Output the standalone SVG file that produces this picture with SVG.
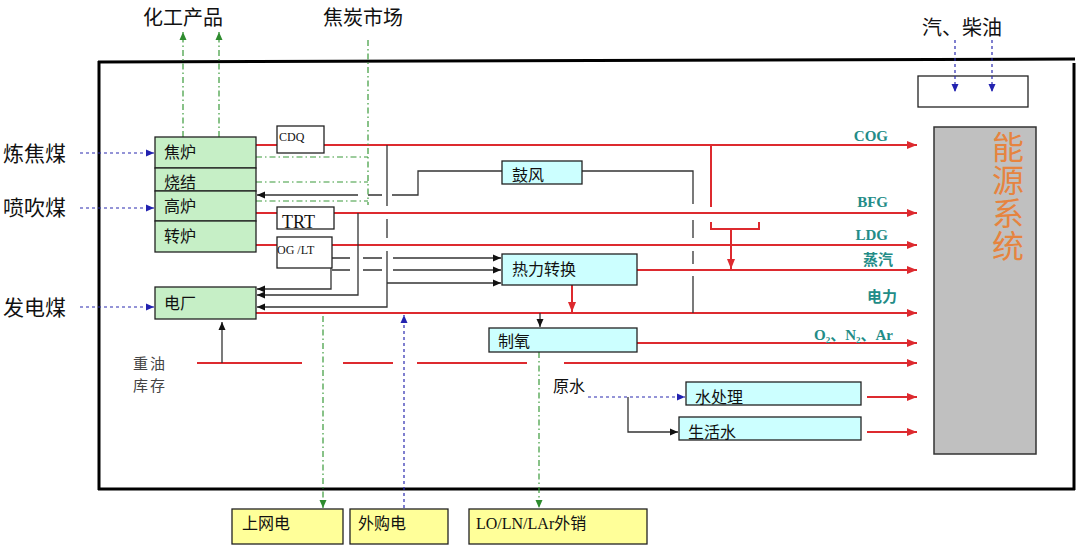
<svg xmlns="http://www.w3.org/2000/svg" width="1080" height="549" viewBox="0 0 1080 549">
<defs>
<style>
.cn{font-family:"Noto Sans CJK SC","Noto Sans",sans-serif;fill:#111}
.lbl{font-family:"Liberation Serif","Noto Sans CJK SC",serif;font-weight:bold;fill:#238C87;font-size:15px}
.lblc{font-family:"Noto Sans CJK SC",sans-serif;font-weight:bold;fill:#238C87;font-size:15px}
.ser{font-family:"Liberation Serif","Noto Sans CJK SC",serif;fill:#111}
.g{fill:#C6EFC6;stroke:#222;stroke-width:1.3}
.c{fill:#CCFFFF;stroke:#222;stroke-width:1.3}
.w{fill:#fff;stroke:#222;stroke-width:1.3}
.y{fill:#FFFF99;stroke:#222;stroke-width:1.3}
.red{fill:none;stroke:#DD2A2F;stroke-width:2}
.blk{fill:none;stroke:#333;stroke-width:1.3}
.blu{fill:none;stroke:#2A2AB0;stroke-width:1.2;stroke-dasharray:3,3}
.grn{fill:none;stroke:#3A9A3A;stroke-width:1.2;stroke-dasharray:6,3,1.5,3}
</style>
<marker id="aR" markerUnits="userSpaceOnUse" markerWidth="10" markerHeight="8" refX="10" refY="4" orient="auto"><path d="M0,0 L10,4 L0,8 z" fill="#DD2A2F"/></marker>
<marker id="aK" markerUnits="userSpaceOnUse" markerWidth="8" markerHeight="8" refX="8" refY="4" orient="auto"><path d="M0,0.5 L8,4 L0,7.5 z" fill="#111"/></marker>
<marker id="aB" markerUnits="userSpaceOnUse" markerWidth="8" markerHeight="8" refX="8" refY="4" orient="auto"><path d="M0,0.5 L8,4 L0,7.5 z" fill="#2222B0"/></marker>
<marker id="aG" markerUnits="userSpaceOnUse" markerWidth="8" markerHeight="8" refX="8" refY="4" orient="auto"><path d="M0,0.5 L8,4 L0,7.5 z" fill="#2E8B2E"/></marker>
</defs>
<rect width="1080" height="549" fill="#fff"/>

<g id="frame" stroke="#000" stroke-width="3" fill="none">
<path d="M98,62 L1075,59"/>
<path d="M99,61 V490"/>
<path d="M98,489 H1075"/>
<path d="M1074,63 V490"/>
</g>

<g id="n-qichaiyou-box"><rect class="w" x="918" y="76" width="110" height="31"/></g>

<g id="connectors">
<path class="red" d="M256,145 H277"/>
<path class="red" d="M324,145 H917" marker-end="url(#aR)"/>
<path class="red" d="M256,213 H277"/>
<path class="red" d="M334,213 H917" marker-end="url(#aR)"/>
<path class="red" d="M256,245 H277"/>
<path class="red" d="M332,245 H917" marker-end="url(#aR)"/>
<path class="red" d="M637,270 H917" marker-end="url(#aR)"/>
<path class="red" d="M256,313 H917" marker-end="url(#aR)"/>
<path class="red" d="M637,343 H917" marker-end="url(#aR)"/>
<path class="red" d="M197,363 H302 M343,363 H393 M417,363 H527"/>
<path class="red" d="M564,363 H917" marker-end="url(#aR)"/>
<path class="red" d="M867,397 H917" marker-end="url(#aR)"/>
<path class="red" d="M867,432 H917" marker-end="url(#aR)"/>
<path class="red" d="M711,145 V207 M711,222 V229 H759 V222"/>
<path class="red" d="M731,229 V269" marker-end="url(#aR)"/>
<path class="red" d="M572,285 V312" marker-end="url(#aR)"/>

<path class="blk" d="M502,171 H418 V195 H392 M382,195 H368"/>
<path class="blk" d="M358,195 H257" marker-end="url(#aK)"/>
<path class="blk" d="M582,171 H693 V204 M693,220 V238 M693,251 V264 M693,276 V313"/>
<path class="blk" d="M387,145 V206 M387,219 V238"/>
<path class="blk" d="M387,251 V307 H257" marker-end="url(#aK)"/>
<path class="blk" d="M387,283 H501" marker-end="url(#aK)"/>
<path class="blk" d="M358,213 V295 H257" marker-end="url(#aK)"/>
<path class="blk" d="M331,268 V289 H257" marker-end="url(#aK)"/>
<path class="blk" d="M332,258 H350 M363,258 H382"/>
<path class="blk" d="M393,258 H501" marker-end="url(#aK)"/>
<path class="blk" d="M332,270 H350 M363,270 H382"/>
<path class="blk" d="M393,270 H501" marker-end="url(#aK)"/>
<path class="blk" d="M540,313 V327" marker-end="url(#aK)"/>
<path class="blk" d="M222,363 V322" marker-end="url(#aK)"/>
<path class="blk" d="M628,397 V432 H678" marker-end="url(#aK)"/>

<path class="blu" d="M80,153 H154" marker-end="url(#aB)"/>
<path class="blu" d="M80,208 H154" marker-end="url(#aB)"/>
<path class="blu" d="M80,307 H154" marker-end="url(#aB)"/>
<path class="blu" d="M955,40 V92" marker-end="url(#aB)"/>
<path class="blu" d="M992,40 V92" marker-end="url(#aB)"/>
<path class="blu" d="M404,508 V315" marker-end="url(#aB)"/>
<path class="blu" d="M588,397 H685" marker-end="url(#aB)"/>

<path class="grn" d="M183,137 V32" marker-end="url(#aG)"/>
<path class="grn" d="M219,137 V32" marker-end="url(#aG)"/>
<path class="grn" d="M368,40 V205"/>
<path class="grn" d="M256,157 H368 M256,182 H368 M256,201 H368"/>
<path class="grn" d="M323,316 V508" marker-end="url(#aG)"/>
<path class="grn" d="M539,352 V508" marker-end="url(#aG)"/>
</g>

<g id="n-jiaolu"><rect class="g" x="155" y="137" width="101" height="31"/><text class="cn" x="164" y="158" font-size="16">焦炉</text></g>
<g id="n-shaojie"><rect class="g" x="155" y="168" width="101" height="23"/><text class="cn" x="164" y="188" font-size="16">烧结</text></g>
<g id="n-gaolu"><rect class="g" x="155" y="191" width="101" height="30"/><text class="cn" x="164" y="212" font-size="16">高炉</text></g>
<g id="n-zhuanlu"><rect class="g" x="155" y="221" width="101" height="31"/><text class="cn" x="164" y="242" font-size="16">转炉</text></g>
<g id="n-dianchang"><rect class="g" x="155" y="287" width="101" height="32"/><text class="cn" x="164" y="309" font-size="16">电厂</text></g>

<g id="n-cdq"><rect class="w" x="277" y="126" width="47" height="27"/><text class="ser" x="279" y="141" font-size="12">CDQ</text></g>
<g id="n-trt"><rect class="w" x="277" y="207" width="57" height="22"/><text class="ser" x="282" y="228" font-size="18">TRT</text></g>
<g id="n-oglt"><rect class="w" x="277" y="237" width="55" height="31"/><text class="ser" x="277" y="254" font-size="12">OG /LT</text></g>

<g id="n-gufeng"><rect class="c" x="502" y="161" width="80" height="23"/><text class="cn" x="512" y="181" font-size="16">鼓风</text></g>
<g id="n-reli"><rect class="c" x="502" y="254" width="135" height="31"/><text class="cn" x="512" y="275" font-size="16">热力转换</text></g>
<g id="n-zhiyang"><rect class="c" x="489" y="328" width="148" height="24"/><text class="cn" x="498" y="347" font-size="16">制氧</text></g>
<g id="n-shuichuli"><rect class="c" x="686" y="382" width="175" height="23"/><text class="cn" x="695" y="403" font-size="16">水处理</text></g>
<g id="n-shenghuoshui"><rect class="c" x="679" y="417" width="182" height="23"/><text class="cn" x="688" y="438" font-size="16">生活水</text></g>

<g id="n-nengyuan"><rect x="934" y="127" width="102" height="327" fill="#C0C0C0" stroke="#333" stroke-width="1.5"/>
<text class="cn" x="1008" y="131" font-size="32" letter-spacing="1" writing-mode="vertical-rl" style="fill:#E6843F">能源系统</text></g>

<g id="n-shangwang"><rect class="y" x="232" y="509" width="111" height="35"/><text class="cn" x="242" y="529" font-size="16">上网电</text></g>
<g id="n-waigou"><rect class="y" x="350" y="509" width="98" height="35"/><text class="cn" x="358" y="529" font-size="16">外购电</text></g>
<g id="n-lo"><rect class="y" x="469" y="509" width="178" height="35"/><text class="ser" x="476" y="529" font-size="16">LO/LN/LAr外销</text></g>

<g id="labels">
<text class="cn" x="143" y="25" font-size="20">化工产品</text>
<text class="cn" x="323" y="25" font-size="20">焦炭市场</text>
<text class="cn" x="922" y="35" font-size="20">汽、柴油</text>
<text class="cn" x="3" y="161" font-size="21">炼焦煤</text>
<text class="cn" x="3" y="215" font-size="21">喷吹煤</text>
<text class="cn" x="3" y="315" font-size="21">发电煤</text>
<text class="cn" x="133" y="368.5" font-size="15" letter-spacing="2" style="fill:#444">重油</text>
<text class="cn" x="133" y="391" font-size="15" letter-spacing="2" style="fill:#444">库存</text>
<text class="cn" x="553" y="392" font-size="16">原水</text>
<text class="lbl" x="888" y="141" text-anchor="end">COG</text>
<text class="lbl" x="888" y="207" text-anchor="end">BFG</text>
<text class="lbl" x="888" y="240" text-anchor="end">LDG</text>
<text class="lblc" x="893" y="265" text-anchor="end">蒸汽</text>
<text class="lblc" x="897" y="302" text-anchor="end">电力</text>
<text class="lbl" x="893" y="340" text-anchor="end">O<tspan font-size="9" dy="3">2</tspan><tspan dy="-3">、N</tspan><tspan font-size="9" dy="3">2</tspan><tspan dy="-3">、Ar</tspan></text>
</g>
</svg>
